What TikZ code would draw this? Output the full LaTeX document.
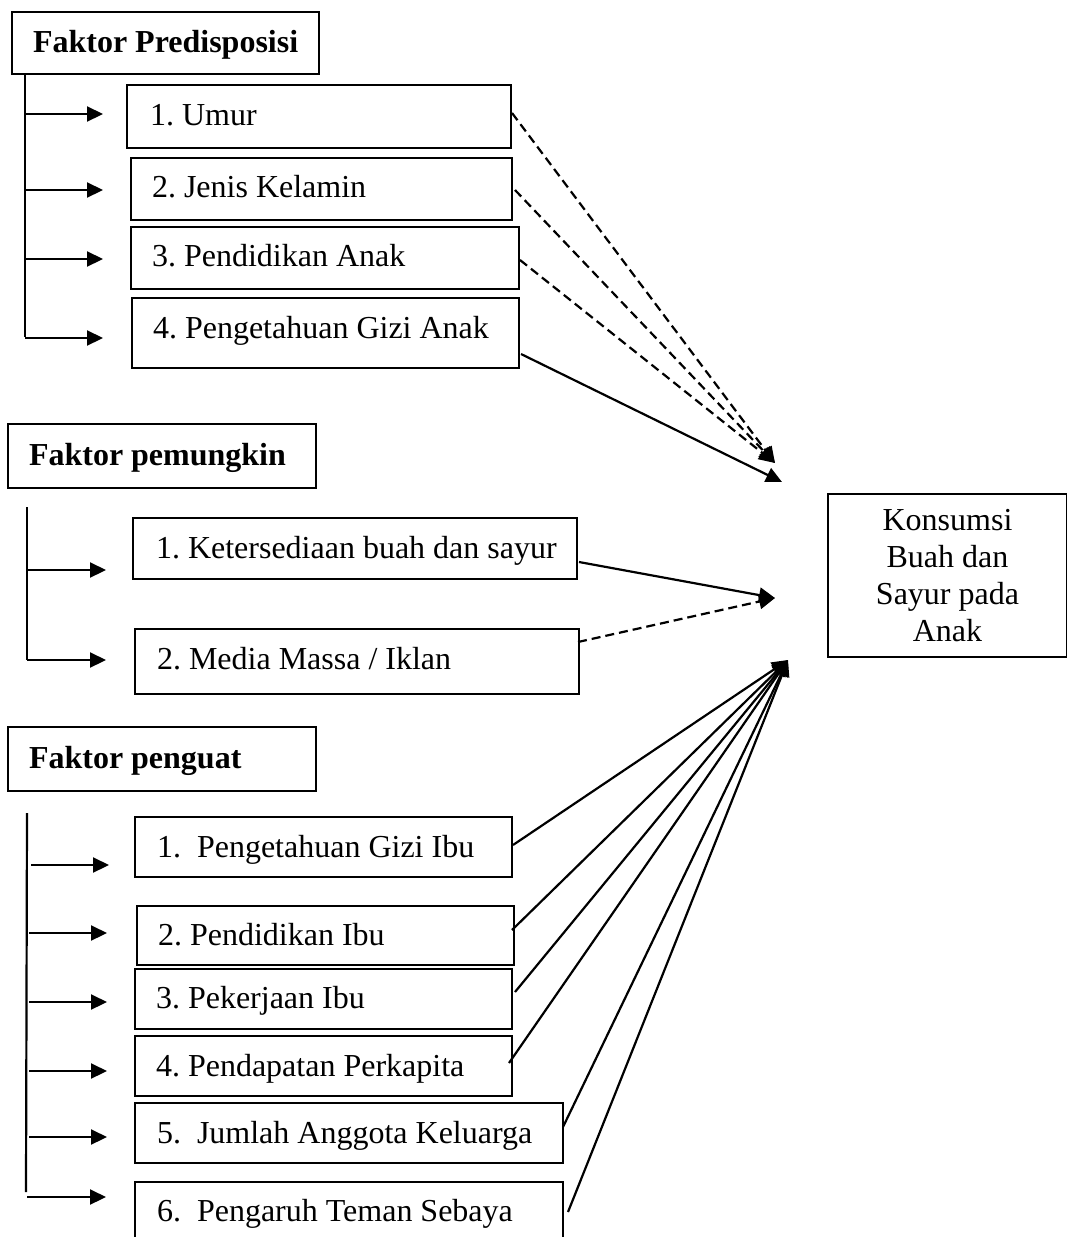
\documentclass[tikz,border=0pt]{standalone}
\usepackage{fontspec}
\setmainfont{Liberation Serif}
\usetikzlibrary{arrows.meta,calc}
\newcommand{\lt}[2]{\makebox[#1][l]{#2}}
\frenchspacing
\begin{document}
\begin{tikzpicture}[x=1pt,y=-1pt,
  every node/.style={font=\fontsize{32}{37}\selectfont},
  box/.style={draw, line width=2pt, anchor=north west, inner ysep=0pt, outer sep=0pt},
  hdr/.style={box, font=\fontsize{32}{37}\selectfont\bfseries},
  con/.style={line width=2.2pt},
  arr/.style={con, -{Triangle[length=16pt,width=15pt]}},
  dsh/.style={arr, dash pattern=on 9pt off 5pt},
]
\useasboundingbox (0,0) rectangle (1067,1237);

% headers
\node[hdr, inner xsep=21pt, text height=40pt, text depth=22pt] (h1) at (12,12) {\lt{265pt}{Faktor Predisposisi}};
\node[hdr, inner xsep=21pt, text height=41pt, text depth=23pt] (h2) at (8,424) {\lt{266pt}{Faktor pemungkin}};
\node[hdr, inner xsep=21pt, text height=41pt, text depth=23pt] (h3) at (8,727) {\lt{266pt}{Faktor penguat}};

% predisposisi items
\node[box, inner xsep=23pt, text height=40pt, text depth=23pt] (u1) at (127,85) {\lt{338pt}{1. Umur}};
\node[box, inner xsep=21pt, text height=39pt, text depth=23pt] (u2) at (131,158) {\lt{339pt}{2. Jenis Kelamin}};
\node[box, inner xsep=21pt, text height=39pt, text depth=23pt] (u3) at (131,227) {\lt{346pt}{3. Pendidikan Anak}};
\node[box, inner xsep=21pt, text height=40pt, text depth=30pt] (u4) at (132,298) {\lt{345pt}{4. Pengetahuan Gizi Anak}};

% pemungkin items
\node[box, inner xsep=23pt, text height=40pt, text depth=21pt] (k1) at (133,518) {\lt{398pt}{1. Ketersediaan buah dan sayur}};
\node[box, inner xsep=22pt, text height=40pt, text depth=25pt] (k2) at (135,629) {\lt{400pt}{2. Media Massa / Iklan}};

% penguat items
\node[box, inner xsep=22pt, text height=40pt, text depth=20pt] (p1) at (135,817) {\lt{333pt}{1.\ \ Pengetahuan Gizi Ibu}};
\node[box, inner xsep=21pt, text height=39pt, text depth=20pt] (p2) at (137,906) {\lt{335pt}{2. Pendidikan Ibu}};
\node[box, inner xsep=21pt, text height=39pt, text depth=21pt] (p3) at (135,969) {\lt{335pt}{3. Pekerjaan Ibu}};
\node[box, inner xsep=21pt, text height=40pt, text depth=20pt] (p4) at (135,1036) {\lt{335pt}{4. Pendapatan Perkapita}};
\node[box, inner xsep=22pt, text height=40pt, text depth=20pt] (p5) at (135,1103) {\lt{384pt}{5.\ \ Jumlah Anggota Keluarga}};
\node[box, inner xsep=22pt, text height=39pt, text depth=31pt] (p6) at (135,1182) {\lt{384pt}{6.\ \ Pengaruh Teman Sebaya}};

% outcome
\node[draw, line width=2pt, minimum width=239pt, minimum height=163pt, align=center,
      anchor=north west, inner sep=0pt] (kons) at (827,493) {Konsumsi\\Buah dan\\Sayur pada\\Anak};

% left buses
\coordinate (b1t) at (25,74);  \coordinate (b1b) at (25,337);
\coordinate (b2t) at (27,507); \coordinate (b2b) at (27,660);
\coordinate (b3t) at (27,813); \coordinate (b3b) at (26,1192);
\draw[con] (b1t) -- (b1b);
\draw[con] (b2t) -- (b2b);
\draw[con] (b3t) -- (b3b);

\foreach \y in {114,190,259,338} \draw[arr] (25,\y) -- (103,\y);
\foreach \y in {570,660} \draw[arr] (27,\y) -- (106,\y);
\draw[arr] (31,865) -- (109,865);
\foreach \y in {933,1002,1071,1137} \draw[arr] (29,\y) -- (107,\y);
\draw[arr] (27,1197) -- (106,1197);

% free ends near outcome
\coordinate (tA) at (775,463);
\coordinate (tB) at (782,482);
\coordinate (tC) at (775,598);
\coordinate (tD) at (788,660);

\draw[dsh] ($(u1.north east)+(1,28)$) -- (tA);
\draw[dsh] ($(u2.north east)+(3,32)$) -- (tA);
\draw[dsh] ($(u3.north east)+(1,33)$) -- (tA);
\draw[arr] ($(u4.north east)+(2,56)$) -- (tB);

\draw[arr] ($(k1.north east)+(2,44)$) -- (tC);
\draw[dsh] ($(k2.north east)+(-1,13)$) -- (tC);

\draw[arr] ($(p1.north east)+(1,28)$) -- (tD);
\draw[arr] ($(p2.north east)+(-2,24)$) -- (tD);
\draw[arr] ($(p3.north east)+(3,23)$) -- (tD);
\draw[arr] ($(p4.north east)+(-3,27)$) -- (tD);
\draw[arr] ($(p5.north east)+(0,24)$) -- (tD);
\draw[arr] ($(p6.north east)+(5,30)$) -- (tD);
\end{tikzpicture}
\end{document}
